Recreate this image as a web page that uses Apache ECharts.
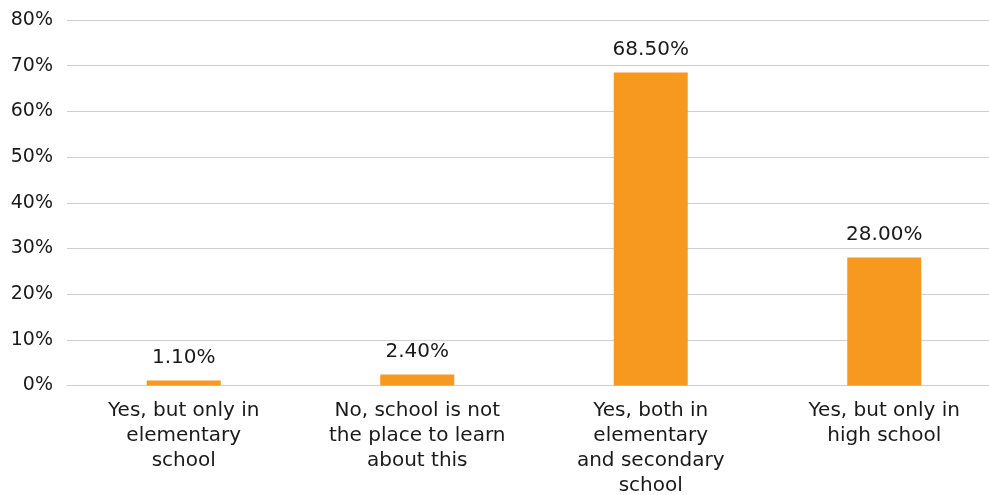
<!DOCTYPE html>
<html>
<head>
<meta charset="utf-8">
<script src="https://cdn.jsdelivr.net/npm/echarts@6/dist/echarts.min.js"></script>
<style>
  html, body { margin: 0; padding: 0; background: #fff; overflow: hidden; }
  #chart { width: 1001px; height: 495px; }
</style>
</head>
<body>
<div id="chart"></div>
<script>
// Survey answers and their shares (percent)
const categories = [
  'Yes, but only in\nelementary\nschool',
  'No, school is not\nthe place to learn\nabout this',
  'Yes, both in\nelementary\nand secondary\nschool',
  'Yes, but only in\nhigh school'
];
const values = [1.1, 2.4, 68.5, 28.0];
const yTicks = { min: 0, max: 80, interval: 10 };

const font = '"DejaVu Sans", sans-serif';
const chart = echarts.init(document.getElementById('chart'), null, { renderer: 'canvas' });
chart.setOption({
  animation: false,
  grid: {
    left: 67, right: 0, top: 20, bottom: 109.5,
    containLabel: false,
    outerBoundsMode: 'none'
  },
  xAxis: {
    type: 'category',
    data: categories,
    axisLine: { show: true, lineStyle: { color: '#d0d0d0', width: 1 } },
    axisTick: { show: false },
    axisLabel: {
      interval: 0,
      margin: 13,
      color: '#1a1a1a',
      fontFamily: font,
      fontSize: 20,
      lineHeight: 25
    }
  },
  yAxis: {
    type: 'value',
    min: yTicks.min,
    max: yTicks.max,
    interval: yTicks.interval,
    axisLine: { show: false },
    axisTick: { show: false },
    splitLine: { lineStyle: { color: '#d0d0d0', width: 1 } },
    axisLabel: {
      margin: 14,
      color: '#1a1a1a',
      fontFamily: font,
      fontSize: 19,
      formatter: v => v + '%'
    }
  },
  series: [{
    type: 'bar',
    data: values,
    barWidth: 74,
    itemStyle: { color: '#F7981F' },
    label: {
      show: true,
      position: 'top',
      distance: 13,
      color: '#1a1a1a',
      fontFamily: font,
      fontSize: 20,
      formatter: p => p.value.toFixed(2) + '%'
    }
  }]
});
</script>
</body>
</html>
